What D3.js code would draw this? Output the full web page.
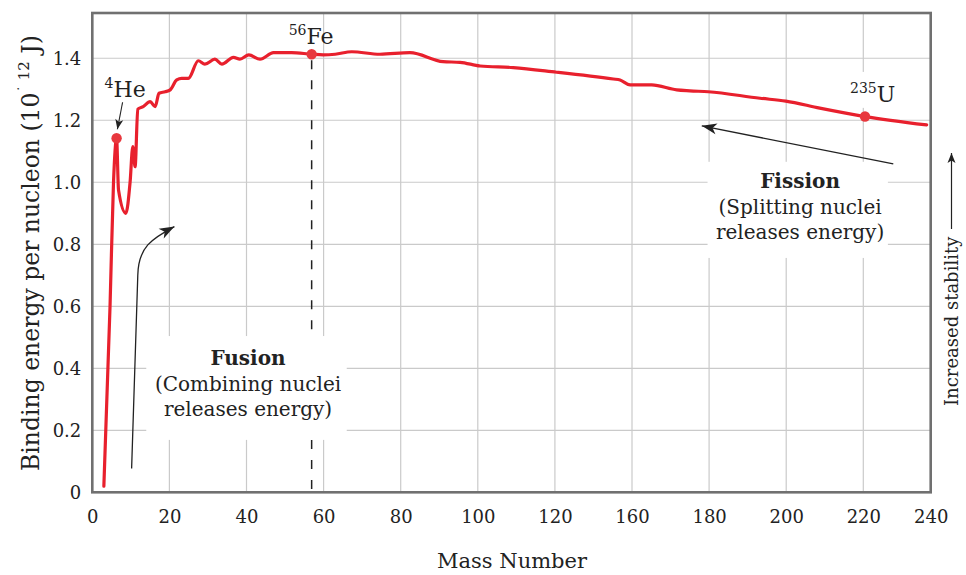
<!DOCTYPE html>
<html><head><meta charset="utf-8">
<script src="https://cdn.jsdelivr.net/npm/d3@7"></script>
<style>
body{margin:0;background:#fff}
svg text{font-family:"DejaVu Serif",serif;fill:#222}
</style>
</head><body>
<svg id="c" width="966" height="575"></svg>
<script>
// ---- data ----
const massNumber = [3.0, 4.6, 5.5, 6.3, 6.8, 8.7, 9.8, 10.5, 11.1, 11.8, 13.2, 15.0, 16.3, 17.3, 18.9, 20.2, 21.9, 23.2, 24.9, 27.5, 29.2, 31.8, 33.6, 36.6, 38.3, 40.6, 43.5, 47.0, 51.7, 56.9, 59.9, 63.0, 67.3, 74.6, 82.4, 91.0, 95.4, 100.6, 109.2, 120.9, 150.3, 153.8, 159.0, 165.1, 171.6, 175.0, 179.8, 193.2, 199.9, 208.7, 220.5, 238.8];
const bindingEnergy = [0.02, 0.60, 1.00, 1.142, 0.975, 0.90, 1.00, 1.115, 1.05, 1.236, 1.244, 1.260, 1.244, 1.287, 1.292, 1.298, 1.330, 1.335, 1.335, 1.392, 1.381, 1.397, 1.381, 1.403, 1.397, 1.411, 1.397, 1.418, 1.418, 1.413, 1.411, 1.413, 1.421, 1.413, 1.418, 1.389, 1.387, 1.375, 1.370, 1.355, 1.333, 1.330, 1.314, 1.314, 1.298, 1.295, 1.292, 1.271, 1.262, 1.239, 1.212, 1.185];
const xTickLabels = [0, 20, 40, 60, 80, 100, 120, 160, 180, 200, 220, 240];
const yTickValues = [0, 0.2, 0.4, 0.6, 0.8, 1.0, 1.2, 1.4];
const nuclideIsotope = ["4", "56", "235"];
const nuclideSymbol = ["He", "Fe", "U"];
const nuclideMass = [6.3, 56.9, 220.5];
const nuclideEnergy = [1.142, 1.413, 1.212];

// ---- layout ----
const plotLeft = 92.3, plotTop = 13, plotW = 838.4, plotH = 479.3;
const xStep = 77.1;
const svg = d3.select("#c");
const g = svg.append("g").attr("transform", `translate(${plotLeft},${plotTop})`);

const x = d3.scaleLinear()
  .domain(xTickLabels)
  .range(xTickLabels.map((d, i) => i < xTickLabels.length - 1 ? i * xStep : plotW));
const y = d3.scaleLinear().domain([0, 1.546]).range([plotH, 0]);

// defs: arrowheads
const defs = svg.append("defs");
defs.append("marker").attr("id", "ah").attr("viewBox", "-16 -8 18 16")
  .attr("refX", 0).attr("refY", 0).attr("markerWidth", 18).attr("markerHeight", 16)
  .attr("markerUnits", "userSpaceOnUse").attr("orient", "auto")
  .append("path").attr("d", "M0,0 L-15,-5.5 L-11,0 L-15,5.5 Z").attr("fill", "#222");
defs.append("marker").attr("id", "ahs").attr("viewBox", "-12 -6 14 12")
  .attr("refX", 0).attr("refY", 0).attr("markerWidth", 14).attr("markerHeight", 12)
  .attr("markerUnits", "userSpaceOnUse").attr("orient", "auto")
  .append("path").attr("d", "M0,0 L-10,-4 L-7.5,0 L-10,4 Z").attr("fill", "#222");

// gridlines
g.append("g").selectAll("line").data(xTickLabels.slice(1, -1)).join("line")
  .attr("x1", d => x(d)).attr("x2", d => x(d)).attr("y1", 0).attr("y2", plotH)
  .attr("stroke", "#cacaca").attr("stroke-width", 1.2);
g.append("g").selectAll("line").data(yTickValues.slice(1)).join("line")
  .attr("x1", 0).attr("x2", plotW).attr("y1", d => y(d)).attr("y2", d => y(d))
  .attr("stroke", "#cacaca").attr("stroke-width", 1.2);

// white masks behind annotation text
const masks = [
  {x0: 14.0, x1: 66.0, y0: 0.504, y1: 0.169},
  {x0: 179.6, x1: 227.3, y0: 1.066, y1: 0.756},
  {x0: 215.5, x1: 230.5, y0: 1.356, y1: 1.240}
];
g.append("g").selectAll("rect").data(masks).join("rect")
  .attr("x", d => x(d.x0)).attr("width", d => x(d.x1) - x(d.x0))
  .attr("y", d => y(d.y0)).attr("height", d => y(d.y1) - y(d.y0))
  .attr("fill", "#fff");

// dashed line at Fe
g.append("line")
  .attr("x1", x(nuclideMass[1])).attr("x2", x(nuclideMass[1]))
  .attr("y1", y(nuclideEnergy[1]) + 6).attr("y2", y(0.504))
  .attr("stroke", "#222").attr("stroke-width", 1.5).attr("stroke-dasharray", "9,11");
g.append("line")
  .attr("x1", x(nuclideMass[1])).attr("x2", x(nuclideMass[1]))
  .attr("y1", y(0.169)).attr("y2", plotH)
  .attr("stroke", "#222").attr("stroke-width", 1.5).attr("stroke-dasharray", "9,11");

// curve
const pts = massNumber.map((m, i) => [m, bindingEnergy[i]]);
g.append("path").datum(pts)
  .attr("d", d3.line().x(d => x(d[0])).y(d => y(d[1])).curve(d3.curveMonotoneX))
  .attr("fill", "none").attr("stroke", "#e8202d").attr("stroke-width", 3.2)
  .attr("stroke-linejoin", "round").attr("stroke-linecap", "round");

// dots
g.append("g").selectAll("circle").data(nuclideMass).join("circle")
  .attr("cx", d => x(d)).attr("cy", (d, i) => y(nuclideEnergy[i])).attr("r", 5.2)
  .attr("fill", "#e8383e");

// frame
g.append("rect").attr("x", 0).attr("y", 0).attr("width", plotW).attr("height", plotH)
  .attr("fill", "none").attr("stroke", "#707070").attr("stroke-width", 2.6);

// axes
const xAxis = g.append("g").attr("transform", `translate(0,${plotH})`)
  .call(d3.axisBottom(x).tickValues(xTickLabels).tickSize(0).tickPadding(18).tickFormat(d => String(d)));
const yAxis = g.append("g")
  .call(d3.axisLeft(y).tickValues(yTickValues).tickSize(0).tickPadding(11).tickFormat(d => d === 0 ? "0" : d3.format(".1f")(d)));
[xAxis, yAxis].forEach(a => {
  a.select(".domain").remove();
  a.attr("font-family", "DejaVu Serif, serif").attr("font-size", 18).attr("color", "#222");
});

// nuclide labels
const labOff = [[-12, -41], [-23, -10], [-15, -15]];
nuclideSymbol.forEach((s, i) => {
  const t = g.append("text")
    .attr("x", x(nuclideMass[i]) + labOff[i][0]).attr("y", y(nuclideEnergy[i]) + labOff[i][1])
    .attr("font-size", 22);
  t.append("tspan").attr("font-size", 14).attr("dy", -9).text(nuclideIsotope[i]);
  t.append("tspan").attr("dy", 9).text(s);
});
// He arrow
g.append("line")
  .attr("x1", x(nuclideMass[0]) + 6).attr("y1", y(nuclideEnergy[0]) - 36)
  .attr("x2", x(nuclideMass[0]) + 0.8).attr("y2", y(nuclideEnergy[0]) - 9)
  .attr("stroke", "#222").attr("stroke-width", 1.1).attr("marker-end", "url(#ahs)");

// Fusion text
const fusion = [["Fusion", 0.41, 700], ["(Combining nuclei", 0.326, 400], ["releases energy)", 0.245, 400]];
g.append("g").selectAll("text").data(fusion).join("text")
  .attr("x", x(40.4)).attr("y", d => y(d[1])).attr("text-anchor", "middle")
  .attr("font-size", 20).attr("font-weight", d => d[2]).text(d => d[0]);
// Fission text
const fission = [["Fission", 0.981, 700], ["(Splitting nuclei", 0.899, 400], ["releases energy)", 0.816, 400]];
g.append("g").selectAll("text").data(fission).join("text")
  .attr("x", x(203.6)).attr("y", d => y(d[1])).attr("text-anchor", "middle")
  .attr("font-size", 20).attr("font-weight", d => d[2]).text(d => d[0]);

// Fusion arrow
{
  const x0 = x(10.2), y0 = y(0.077), x1 = x(11.8), y1 = y(0.70), x2 = x(21.3), y2 = y(0.857);
  g.append("path")
    .attr("d", `M${x0},${y0} L${x1},${y1} C${x1 + 0.5},${y1 - 28} ${x1 + 14},${y2 + 12} ${x2},${y2}`)
    .attr("fill", "none").attr("stroke", "#222").attr("stroke-width", 1.3).attr("marker-end", "url(#ah)");
}
// Fission arrow
g.append("line")
  .attr("x1", x(228.9)).attr("y1", y(1.059)).attr("x2", x(178.1)).attr("y2", y(1.182))
  .attr("stroke", "#222").attr("stroke-width", 1.3).attr("marker-end", "url(#ah)");

// axis titles
svg.append("text").attr("x", 512).attr("y", 568).attr("text-anchor", "middle")
  .attr("font-size", 21).text("Mass Number");
const yt = svg.append("text").attr("transform", "translate(39,253) rotate(-90)")
  .attr("text-anchor", "middle").attr("font-size", 23.5);
yt.append("tspan").text("Binding energy per nucleon (10");
yt.append("tspan").attr("font-size", 15).attr("dy", -10).text("˙ 12");
yt.append("tspan").attr("dy", 10).text(" J)");

// Increased stability
svg.append("text").attr("transform", "translate(958,406) rotate(-90)")
  .attr("font-size", 18).text("Increased stability");
svg.append("line").attr("x1", 951.5).attr("x2", 951.5).attr("y1", 229).attr("y2", 153)
  .attr("stroke", "#222").attr("stroke-width", 1.2).attr("marker-end", "url(#ahs)");
</script>
</body></html>
